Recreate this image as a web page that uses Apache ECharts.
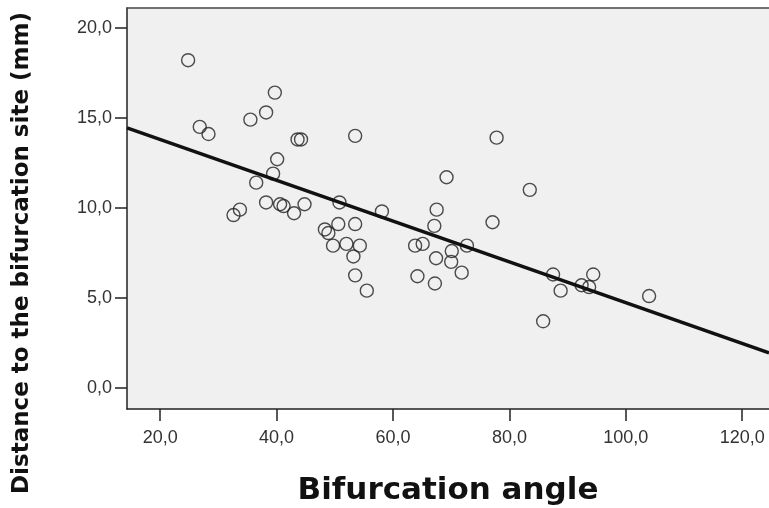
<!DOCTYPE html>
<html>
<head>
<meta charset="utf-8">
<script src="https://cdn.jsdelivr.net/npm/echarts@6/dist/echarts.min.js"></script>
<style>
html,body{margin:0;padding:0;background:#fff;}
#chart{width:769px;height:508px;}
</style>
</head>
<body>
<div id="chart"></div>
<script>
// Bifurcation angle (x) values of observed points
var angles = [24.8, 26.8, 28.3, 39.7, 38.2, 35.5, 43.6, 44.2, 53.5, 40.1,
              39.4, 36.5, 50.8, 58.1, 33.7, 32.6, 38.2, 40.6, 41.2, 43.0,
              44.8, 50.6, 53.5, 69.2, 83.5, 67.5, 77.1, 67.1, 48.3, 48.9,
              49.7, 52.0, 54.3, 53.2, 53.5, 55.5, 63.8, 65.1, 67.4, 70.1,
              70.0, 72.7, 71.8, 64.2, 67.2, 85.8, 87.5, 88.8, 94.4, 92.4,
              93.7, 104.0, 77.8];
// Distance to the bifurcation site (mm)
var distances = [18.2, 14.5, 14.1, 16.4, 15.3, 14.9, 13.8, 13.8, 14.0, 12.7,
                 11.9, 11.4, 10.3, 9.8, 9.9, 9.6, 10.3, 10.2, 10.1, 9.7,
                 10.2, 9.1, 9.1, 11.7, 11.0, 9.9, 9.2, 9.0, 8.8, 8.6,
                 7.9, 8.0, 7.9, 7.3, 6.25, 5.4, 7.9, 8.0, 7.2, 7.6,
                 7.0, 7.9, 6.4, 6.2, 5.8, 3.7, 6.3, 5.4, 6.3, 5.7,
                 5.6, 5.1, 13.9];
// Fit line endpoints
var fitX = [14.3, 124.6];
var fitY = [14.44, 1.94];
// Tick labels
var xTicks = [20, 40, 60, 80, 100, 120];
var yTicks = [0, 5, 10, 15, 20];
var xTitle = 'Bifurcation angle';
var yTitle = 'Distance to the bifurcation site (mm)';

var pts = angles.map(function (a, i) { return [a, distances[i]]; });
var fitData = fitX.map(function (x, i) { return [x, fitY[i]]; });
function fmt(v) { return v.toFixed(1).replace('.', ','); }

var chart = echarts.init(document.getElementById('chart'), null, {renderer: 'canvas'});
chart.setOption({
  animation: false,
  backgroundColor: '#ffffff',
  grid: {
    left: 127, right: 0, top: 8, bottom: 99,
    outerBoundsMode: 'none', containLabel: false,
    show: true, backgroundColor: '#f0f0f0', borderWidth: 0
  },
  xAxis: [{
    type: 'value', min: 14.3, max: 124.6,
    splitLine: {show: false},
    axisLine: {show: true, onZero: false, lineStyle: {color: '#222', width: 1.5}},
    axisTick: {show: true, length: 12, lineStyle: {color: '#222', width: 1.5}, customValues: xTicks},
    axisLabel: {customValues: xTicks, formatter: fmt, margin: 20, color: '#333',
      fontFamily: 'Liberation Sans, Arial, sans-serif', fontSize: 18},
    name: xTitle, nameLocation: 'middle', nameGap: 66,
    nameTextStyle: {fontFamily: 'DejaVu Sans', fontWeight: 'bold', fontSize: 31, color: '#111'}
  }, {
    type: 'value', position: 'top', min: 14.3, max: 124.6,
    splitLine: {show: false}, axisTick: {show: false}, axisLabel: {show: false},
    axisLine: {show: true, onZero: false, lineStyle: {color: '#444', width: 1.5}}
  }],
  yAxis: {
    type: 'value', min: -1.172, max: 21.1,
    splitLine: {show: false},
    axisLine: {show: true, onZero: false, lineStyle: {color: '#222', width: 1.5}},
    axisTick: {show: true, length: 12, lineStyle: {color: '#222', width: 1.5}, customValues: yTicks},
    axisLabel: {customValues: yTicks, formatter: fmt, margin: 15, color: '#333',
      fontFamily: 'Liberation Sans, Arial, sans-serif', fontSize: 18}
  },
  graphic: [{
    type: 'text', x: 22, y: 253, rotation: Math.PI / 2,
    style: {text: yTitle, font: 'bold 23px "DejaVu Sans"', fill: '#111',
      align: 'center', verticalAlign: 'middle'}
  }],
  series: [{
    type: 'scatter', data: pts, symbol: 'circle', symbolSize: 13,
    itemStyle: {color: 'rgba(0,0,0,0)', borderColor: '#222', borderWidth: 1.4},
    z: 2
  }, {
    type: 'line', data: fitData, symbol: 'none',
    lineStyle: {color: '#111', width: 3.5}, z: 3
  }]
});
</script>
</body>
</html>
